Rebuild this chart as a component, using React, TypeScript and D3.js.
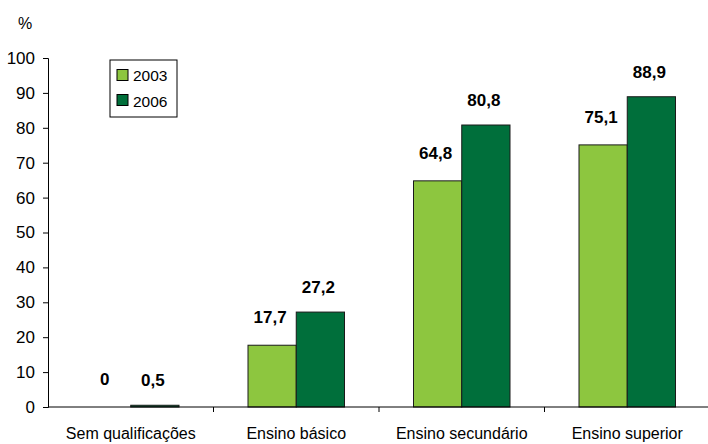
import React, { useEffect, useRef } from 'react';
import * as d3 from 'd3';

const categories = ['Sem qualificações', 'Ensino básico', 'Ensino secundário', 'Ensino superior'];
const years = ['2003', '2006'];
const values2003 = [0, 17.7, 64.8, 75.1];
const values2006 = [0.5, 27.2, 80.8, 88.9];
const yTicks = [0, 10, 20, 30, 40, 50, 60, 70, 80, 90, 100];

const colors = ['#8dc63f', '#006f3b'];

const App = () => {
  const ref = useRef<SVGSVGElement>(null);

  useEffect(() => {
    const svg = d3.select(ref.current);
    svg.selectAll('*').remove();

    const font = '"Liberation Sans", Arial, sans-serif';
    const left = 48;
    const right = 710;
    const top = 58;
    const bottom = 407;

    const x = d3.scaleBand().domain(categories).range([left, right]).paddingInner(0).paddingOuter(0);
    const y = d3.scaleLinear().domain([0, 100]).range([bottom, top]);
    const inner = d3.scaleBand().domain(years).range([34.5, x.bandwidth() - 34.5]);

    // y axis
    const yAxis = d3.axisLeft(y).tickValues(yTicks).tickSize(5).tickPadding(8);
    const gy = svg.append('g').attr('transform', `translate(${left},0)`).call(yAxis);
    gy.select('.domain').attr('stroke', '#000');
    gy.selectAll('text').attr('font-family', font).attr('font-size', 17).attr('fill', '#000');

    svg.append('text')
      .attr('x', 18).attr('y', 29)
      .attr('font-family', font).attr('font-size', 16)
      .text('%');

    // bars
    const series = [values2003, values2006];
    categories.forEach((c, i) => {
      series.forEach((vals, s) => {
        const v = vals[i];
        const bx = (x(c) as number) + (inner(years[s]) as number);
        const w = inner.bandwidth();
        if (v > 0) {
          svg.append('rect')
            .attr('x', bx).attr('y', y(v))
            .attr('width', w).attr('height', y(0) - y(v))
            .attr('fill', colors[s]).attr('stroke', '#1a1a1a').attr('stroke-width', 1);
        }
        svg.append('text')
          .attr('x', bx + w / 2 - 2).attr('y', y(v) - (s === 0 ? 22 : 19))
          .attr('text-anchor', 'middle')
          .attr('font-family', font).attr('font-size', 17).attr('font-weight', 'bold')
          .text(String(v).replace('.', ','));
      });
    });

    // x axis
    const gx = svg.append('g').attr('transform', `translate(0,${bottom})`);
    gx.append('line').attr('x1', left).attr('x2', right).attr('stroke', '#000');
    categories.forEach((c, i) => {
      const bx = x(c) as number;
      if (i > 0) gx.append('line').attr('x1', bx).attr('x2', bx).attr('y2', 5).attr('stroke', '#000');
      gx.append('text')
        .attr('x', bx + x.bandwidth() / 2).attr('y', 32)
        .attr('text-anchor', 'middle')
        .attr('font-family', font).attr('font-size', 16)
        .text(c);
    });

    // legend
    const lg = svg.append('g').attr('transform', 'translate(110,60)');
    lg.append('rect').attr('width', 67).attr('height', 57).attr('fill', '#fff').attr('stroke', '#000');
    years.forEach((yr, i) => {
      lg.append('rect')
        .attr('x', 7).attr('y', 9.5 + i * 25).attr('width', 11).attr('height', 11)
        .attr('fill', colors[i]).attr('stroke', '#000');
      lg.append('text')
        .attr('x', 23).attr('y', 21 + i * 26)
        .attr('font-family', font).attr('font-size', 15.5)
        .text(yr);
    });
  }, []);

  return (
    <svg ref={ref} width={708} height={444} style={{ position: 'absolute', left: 0, top: 0 }}></svg>
  );
};

export default App;
